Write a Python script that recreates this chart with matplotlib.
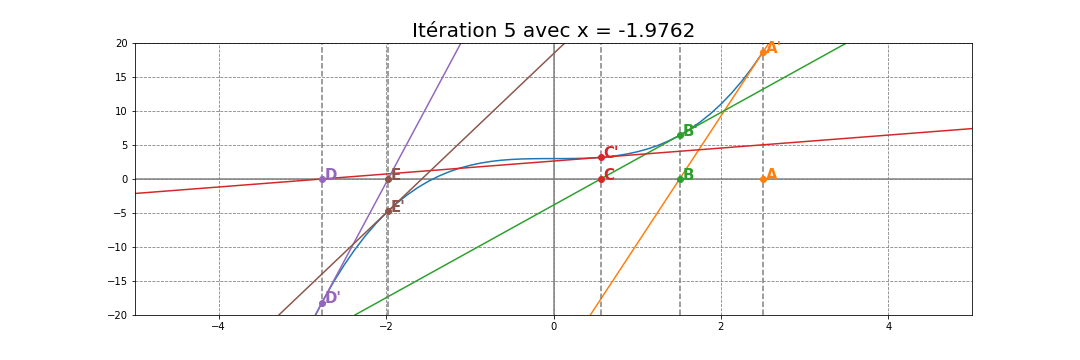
import matplotlib
matplotlib.use("Agg")
import matplotlib.pyplot as plt

# courbe
courbe_x = [-3.0, -2.875, -2.75, -2.625, -2.5, -2.375, -2.25, -2.125, -2.0, -1.875,
            -1.75, -1.625, -1.5, -1.375, -1.25, -1.125, -1.0, -0.875, -0.75, -0.625,
            -0.5, -0.375, -0.25, -0.125, 0.0, 0.125, 0.25, 0.375, 0.5, 0.625,
            0.75, 0.875, 1.0, 1.125, 1.25, 1.375, 1.5, 1.625, 1.75, 1.875,
            2.0, 2.125, 2.25, 2.375, 2.5]
courbe_y = [-24.0, -20.76, -17.8, -15.09, -12.63, -10.4, -8.39, -6.6, -5.0, -3.59,
            -2.36, -1.29, -0.375, 0.4, 1.05, 1.58, 2.0, 2.33, 2.58, 2.76,
            2.875, 2.95, 2.98, 3.0, 3.0, 3.0, 3.02, 3.05, 3.125, 3.24,
            3.42, 3.67, 4.0, 4.42, 4.95, 5.6, 6.375, 7.29, 8.36, 9.59,
            11.0, 12.6, 14.39, 16.4, 18.63]

# itérations de Newton
noms = ["A", "B", "C", "D", "E"]
couleurs = ["C1", "C2", "C3", "C4", "C5"]
iter_x = [2.5, 1.5067, 0.5639, -2.768, -1.9762]
iter_y = [18.625, 6.42, 3.179, -18.21, -4.716]
pentes = [18.75, 6.81, 0.954, 22.99, 11.71]

fig = plt.figure(figsize=(15, 5), dpi=72)
ax = fig.add_axes([135 / 1080, 45 / 360, 837 / 1080, 272 / 360])

ax.grid(color="gray", linestyle="--")
ax.axhline(0, color="gray", linewidth=1.5)
ax.axvline(0, color="gray", linewidth=1.5)

ax.plot(courbe_x, courbe_y, color="C0")

for nom, c, x, y, p in zip(noms, couleurs, iter_x, iter_y, pentes):
    ax.axline((x, y), slope=p, color=c)
    ax.axvline(x, color="gray", linestyle="--", linewidth=1.5)
    ax.plot([x, x], [0, y], "o", color=c, markersize=6, zorder=4)
    ax.annotate(nom, (x, 0), xytext=(3, 4), textcoords="offset points",
                color=c, fontsize=15, fontweight="bold", va="center")
    ax.annotate(nom + "'", (x, y), xytext=(3, 4), textcoords="offset points",
                color=c, fontsize=15, fontweight="bold", va="center")

ax.set_xlim(-5, 5)
ax.set_ylim(-20, 20)
ax.set_title("Itération 5 avec x = " + str(iter_x[-1]), fontsize=20)

plt.savefig("out.png", dpi=72)
